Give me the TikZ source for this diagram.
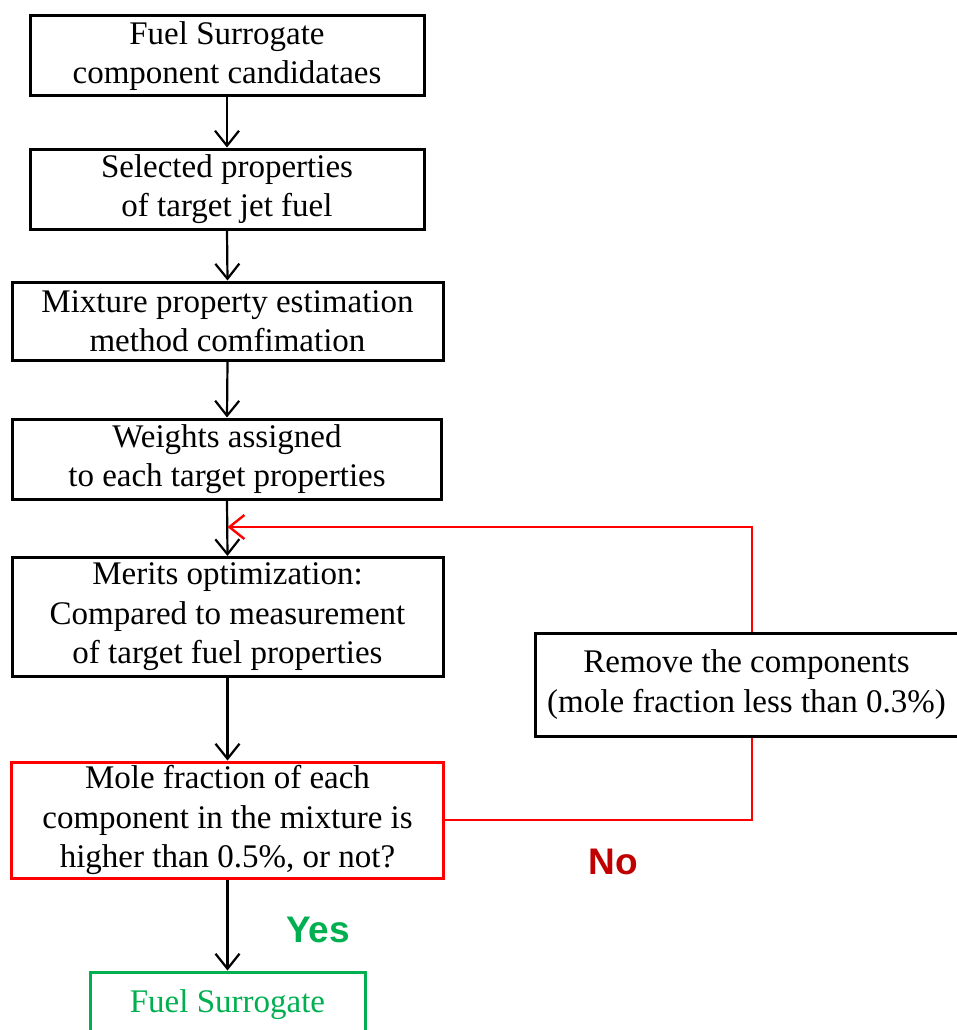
\documentclass[tikz,border=0pt]{standalone}
\usepackage{fontspec}
\setmainfont{Liberation Serif}
\newfontfamily\arialfont{Liberation Sans}
\usetikzlibrary{arrows.meta}
\definecolor{myred}{RGB}{255,0,0}
\definecolor{mygreen}{RGB}{0,176,80}
\definecolor{nored}{RGB}{192,0,0}
\tikzset{
  box/.style={draw=black, line width=3pt, rectangle, align=center, inner sep=0pt,
    font=\fontsize{33}{39.5}\selectfont},
  arr/.style={line width=2.2pt, -{Straight Barb[length=15pt,width=24pt]}},
  redline/.style={draw=myred, line width=2.8pt},
  lbl/.style={font=\arialfont\bfseries\fontsize{37}{40}\selectfont}
}
\begin{document}
\begin{tikzpicture}[x=1pt,y=-1pt]
\useasboundingbox (0,0) rectangle (957,1030);
\node[box, minimum width=394pt, minimum height=80pt] (b1) at (227,56) {Fuel Surrogate\\component candidataes};
\node[box, minimum width=394pt, minimum height=80pt] (b2) at (227,189) {Selected properties\\of target jet fuel};
\node[box, minimum width=431pt, minimum height=78pt] (b3) at (227.5,321) {Mixture property estimation\\method comfimation};
\node[box, minimum width=429pt, minimum height=80pt] (b4) at (227,459) {Weights assigned\\to each target properties};
\node[box, minimum width=431pt, minimum height=119pt] (b5) at (227.5,617) {Merits optimization:\\Compared to measurement\\of target fuel properties};
\node[box, draw=myred, minimum width=432pt, minimum height=116pt] (b6) at (227.5,820) {Mole fraction of each\\component in the mixture is\\higher than 0.5\%, or not?};
\node[box, draw=mygreen, text=mygreen, minimum width=275pt, minimum height=66pt] (b7) at (227.5,1005) {Fuel Surrogate};
\node[box, minimum width=434pt, minimum height=103pt] (b8) at (752,684.5) {\hspace*{-11pt}Remove the components\\\hspace*{-11pt}(mole fraction less than 0.3\%)};
\coordinate (merge) at (227.5,527);

\draw[arr] (b1.south) -- (b2.north);
\draw[arr] (b2.south) -- (b3.north);
\draw[arr] (b3.south) -- (b4.north);
\draw[arr] (b4.south) -- (b5.north);
\draw[arr] (b5.south) -- (b6.north);
\draw[arr] (b6.south) -- (b7.north);

\draw[redline] (b6.east) -| (b8.south);
\draw[redline, line width=2.4pt, -{Straight Barb[length=15pt,width=24pt]}] (b8.north) |- (merge);

\node[lbl, text=mygreen] (yes) at (318,930) {Yes};
\node[lbl, text=nored] (no) at (613,862) {No};
\end{tikzpicture}
\end{document}
